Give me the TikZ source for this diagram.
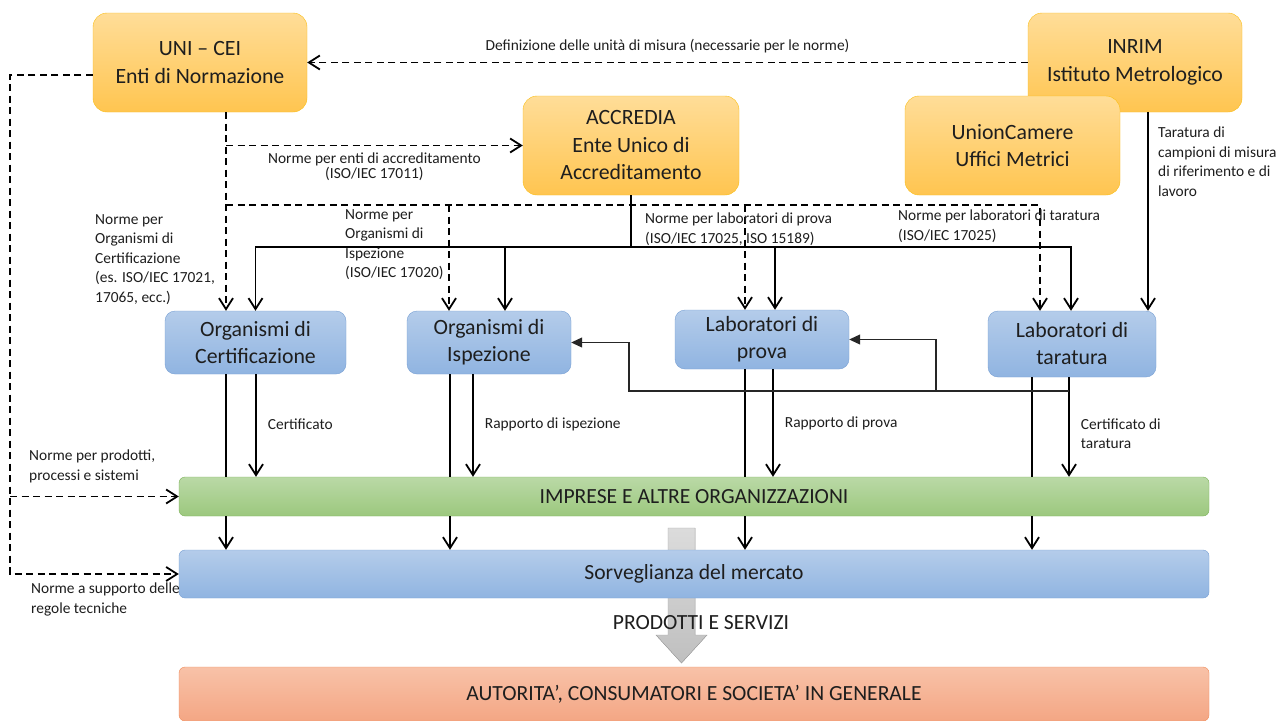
\documentclass[tikz,border=0pt]{standalone}
\usepackage{fontspec}
\setmainfont{Carlito}
\usepackage{tikz}
\usetikzlibrary{arrows.meta}
\definecolor{orTop}{RGB}{255,221,152}
\definecolor{orBot}{RGB}{255,197,80}
\definecolor{orLine}{RGB}{250,190,20}
\definecolor{blTop}{RGB}{180,204,234}
\definecolor{blBot}{RGB}{144,180,225}
\definecolor{blLine}{RGB}{120,160,212}
\definecolor{grTop}{RGB}{186,217,166}
\definecolor{grBot}{RGB}{156,200,126}
\definecolor{grLine}{RGB}{125,178,90}
\definecolor{saTop}{RGB}{248,194,168}
\definecolor{saBot}{RGB}{244,166,132}
\definecolor{saLine}{RGB}{240,140,90}
\definecolor{txt}{RGB}{30,30,30}

\begin{document}
\begin{tikzpicture}[x=1pt,y=-1pt,
  >={Straight Barb[length=11pt,width=14pt]},
  orbox/.style={draw=orLine,top color=orTop,bottom color=orBot,rounded corners=14pt,align=center,inner sep=0pt,text=txt,font=\fontsize{21.8}{27.5}\selectfont},
  blbox/.style={draw=blLine,top color=blTop,bottom color=blBot,rounded corners=10pt,align=center,inner sep=0pt,text=txt,font=\fontsize{21.8}{27}\selectfont},
  bar/.style={rounded corners=6pt,minimum width=1030pt,inner sep=0pt,text=txt,font=\fontsize{21.6}{25}\selectfont},
  lbl/.style={inner sep=0pt,align=left,text=txt,font=\fontsize{15.4}{19.5}\selectfont},
  dsh/.style={line width=1.8pt,dash pattern=on 7pt off 4.5pt},
  sol/.style={line width=1.8pt},
  fbl/.style={line width=1.1pt,draw=black!85,-{Triangle[length=11pt,width=10pt]}}]
\clip (0,0) rectangle (1281,720);
\fill[white] (0,0) rectangle (1281,720);
\filldraw[draw=gray!70,top color=gray!28,bottom color=gray!50] (668,528) -- (695,528) -- (695,635) -- (707,635) -- (681.5,663) -- (656,635) -- (668,635) -- cycle;

\node[orbox,minimum width=214pt,minimum height=99pt] (uni) at (200,62.5) {UNI -- CEI\\Enti di Normazione};
\node[orbox,minimum width=214pt,minimum height=99pt] (inrim) at (1135,62.5) {INRIM\\Istituto Metrologico};
\node[orbox,minimum width=216pt,minimum height=99pt] (accr) at (631,145.5) {ACCREDIA\\Ente Unico di\\Accreditamento};
\node[orbox,minimum width=215pt,minimum height=99pt] (union) at (1012.5,145.5) {UnionCamere\\Uffici Metrici};
\node[blbox,minimum width=181pt,minimum height=63pt] (cert) at (255.5,342.5) {Organismi di\\Certificazione};
\node[blbox,minimum width=164pt,minimum height=63pt] (isp) at (489,342.5) {Organismi di\\Ispezione};
\node[blbox,minimum width=174pt,minimum height=59pt] (prova) at (762,339.5) {Laboratori di\\prova};
\node[blbox,minimum width=168pt,minimum height=66pt] (tara) at (1072,344) {Laboratori di\\taratura};
\node[bar,draw=grLine,top color=grTop,bottom color=grBot,minimum height=39pt] (impr) at (694,496.5) {IMPRESE E ALTRE ORGANIZZAZIONI};
\node[bar,draw=blLine,top color=blTop,bottom color=blBot,minimum height=48pt] (sorv) at (694,574) {Sorveglianza del mercato};
\node[bar,draw=saLine,top color=saTop,bottom color=saBot,minimum height=54pt] (aut) at (694,694) {AUTORITA’, CONSUMATORI E SOCIETA’ IN GENERALE};
\node[inner sep=0pt,text=txt,font=\fontsize{21.6}{25}\selectfont] (prod) at (701,623) {PRODOTTI E SERVIZI};

\draw[dsh,->] (inrim.west) -- node[lbl,above=9pt] {Definizione delle unità di misura (necessarie per le norme)} (uni.east);

\coordinate (lft) at (10,75);
\draw[dsh,->] (uni.west |- lft) -- (lft) |- (sorv.west);
\draw[dsh,->] (lft |- impr.west) -- (impr.west);
\node[lbl,anchor=north west] (lprod) at (29,450) {Norme per prodotti,\\processi e sistemi};
\node[lbl,anchor=north west] (lsupp) at (31,583) {Norme a supporto delle\\regole tecniche};

\coordinate (uS) at ([xshift=26pt]uni.south);
\coordinate (dE) at (1040,205);
\draw[dsh,->] (uS) -- (uS |- cert.north);
\draw[dsh,->] (uS |- accr.west) -- node[lbl,align=center,below=6pt,font=\fontsize{15.4}{15}\selectfont] {Norme per enti di accreditamento\\(ISO/IEC 17011)} (accr.west);
\draw[dsh,->] (uS |- dE) -- (dE) -- (dE |- tara.north);
\draw[dsh,->] ([xshift=-40pt]isp.north |- dE) -- ([xshift=-40pt]isp.north);
\draw[dsh,->] ([xshift=-17pt]prova.north |- dE) -- ([xshift=-17pt]prova.north);

\coordinate (aJ) at (accr.south |- 0,247);
\draw[sol] (accr.south) -- (aJ);
\draw[sol,->] (aJ) -| (cert.north);
\draw[sol,->] (aJ) -| ([xshift=-1pt]tara.north);
\draw[sol,->] ([xshift=16pt]isp.north |- aJ) -- ([xshift=16pt]isp.north);
\draw[sol,->] ([xshift=13pt]prova.north |- aJ) -- ([xshift=13pt]prova.north);
\draw[sol,->] ([xshift=13pt]inrim.south) -- ([xshift=13pt]inrim.south |- tara.north);

\node[lbl,anchor=north west] (lcert) at (95,214) {Norme per\\Organismi di\\Certificazione\\(es. ISO/IEC 17021,\\17065, ecc.)};
\node[lbl,anchor=north west] (lisp) at (345,209) {Norme per\\Organismi di\\Ispezione\\(ISO/IEC 17020)};
\node[lbl,anchor=north west] (lprova) at (645,213) {Norme per laboratori di prova\\(ISO/IEC 17025, ISO 15189)};
\node[lbl,anchor=north west] (ltara) at (898,210) {Norme per laboratori di taratura\\(ISO/IEC 17025)};
\node[lbl,anchor=north west] (linrim) at (1158,127) {Taratura di\\campioni di misura\\di riferimento e di\\lavoro};

\foreach \n/\a/\b/\l/\s in {cert/-29.5/0.5/Certificato/1.5, isp/-39/-16/Rapporto di ispezione/1.5, prova/-17/11/Rapporto di prova/0, tara/-40/-3/Certificato di\\taratura/-6.5}{
  \draw[sol] ([xshift=\a pt]\n.south) -- ([xshift=\a pt]\n.south |- impr.north);
  \draw[sol,->] ([xshift=\a pt]\n.south |- impr.south) -- ([xshift=\a pt]\n.south |- sorv.north);
  \draw[sol,->] ([xshift=\b pt]\n.south) -- node[lbl,right=11pt,yshift=\s pt] {\l} ([xshift=\b pt]\n.south |- impr.north);
}

\coordinate (fb) at ([xshift=-3pt]tara.south |- 0,391);
\coordinate (fbP) at (936,391);
\coordinate (fbI) at (629,391);
\draw[fbl] (fb) -- (fbP) |- (prova.east);
\draw[fbl] (fbP) -- (fbI) |- (isp.east);
\end{tikzpicture}
\end{document}
